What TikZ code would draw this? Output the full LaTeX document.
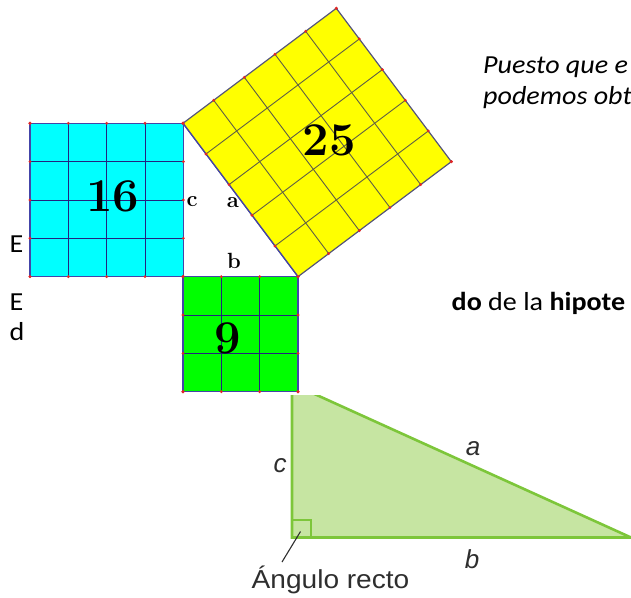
\documentclass[tikz,border=0pt]{standalone}
\usepackage{fontspec}
\newfontfamily\calfont{Carlito}
\newfontfamily\helfont{Liberation Sans}
\definecolor{cyanfill}{HTML}{00FFFF}
\definecolor{greenfill}{HTML}{00FF00}
\definecolor{yellowfill}{HTML}{FFFF00}
\definecolor{navygrid}{HTML}{23237F}
\definecolor{bordblue}{HTML}{4444A8}
\definecolor{ygrid}{HTML}{5E5E46}
\definecolor{yborder}{HTML}{55557A}
\definecolor{dotred}{HTML}{E02828}
\definecolor{trifill}{HTML}{C6E5A2}
\definecolor{triline}{HTML}{7DC63A}
\definecolor{darktext}{HTML}{2E2E2E}
\begin{document}
\begin{tikzpicture}[x=1pt,y=-1pt,
  gridline/.style={draw=navygrid, line width=0.9pt},
  ygridline/.style={draw=ygrid, line width=0.9pt},
  sqborder/.style={draw=bordblue, line width=1.2pt},
  yborderline/.style={draw=yborder, line width=1.2pt},
  reddot/.style={fill=dotred, draw=none},
  numlabel/.style={inner sep=0pt, font=\fontsize{47}{47}\selectfont\bfseries},
  sidelabel/.style={inner sep=0pt, font=\fontsize{22}{22}\selectfont\bfseries},
  bodytext/.style={inner sep=0pt, anchor=base west, font=\calfont\fontsize{26}{30}\selectfont},
  tri/.style={draw=triline, line width=2.6pt, fill=trifill, line join=miter},
  trilabel/.style={inner sep=0pt, text=darktext, font=\helfont\fontsize{26}{30}\selectfont},
  pointer/.style={draw=darktext, line width=1.1pt}]
\useasboundingbox (0,0) rectangle (631,597);

% ---------- cyan square (16) ----------
\begin{scope}[shift={(30pt,-123.3pt)}, x={(38.33pt,0pt)}, y={(0pt,-38.33pt)}]
  \fill[cyanfill] (0,0) -- (4,0) -- (4,4) -- (0,4) -- cycle;
  \foreach \k in {1,2,3} {
    \draw[gridline] (\k,0) -- (\k,4);
    \draw[gridline] (0,\k) -- (4,\k);
  }
  \draw[sqborder] (0,0) -- (4,0) -- (4,4) -- (0,4) -- cycle;
  \foreach \k in {0,...,4} {
    \fill[reddot] (\k,0) circle[radius=1.6pt];
    \fill[reddot] (\k,4) circle[radius=1.6pt];
    \fill[reddot] (0,\k) circle[radius=1.6pt];
    \fill[reddot] (4,\k) circle[radius=1.6pt];
  }
\end{scope}

% ---------- green square (9) ----------
\begin{scope}[shift={(183pt,-276.7pt)}, x={(38.33pt,0pt)}, y={(0pt,-38.33pt)}]
  \fill[greenfill] (0,0) -- (3,0) -- (3,3) -- (0,3) -- cycle;
  \foreach \k in {1,2} {
    \draw[gridline] (\k,0) -- (\k,3);
    \draw[gridline] (0,\k) -- (3,\k);
  }
  \draw[sqborder] (0,0) -- (3,0) -- (3,3) -- (0,3) -- cycle;
  \foreach \k in {0,...,3} {
    \fill[reddot] (\k,0) circle[radius=1.6pt];
    \fill[reddot] (\k,3) circle[radius=1.6pt];
    \fill[reddot] (0,\k) circle[radius=1.6pt];
    \fill[reddot] (3,\k) circle[radius=1.6pt];
  }
\end{scope}

% ---------- yellow square (25) ----------
\begin{scope}[shift={(183pt,-123.3pt)}, x={(23pt,-30.667pt)}, y={(30.667pt,23pt)}]
  \fill[yellowfill] (0,0) -- (5,0) -- (5,5) -- (0,5) -- cycle;
  \foreach \k in {1,2,3,4} {
    \draw[ygridline] (\k,0) -- (\k,5);
    \draw[ygridline] (0,\k) -- (5,\k);
  }
  \draw[yborderline] (0,0) -- (5,0) -- (5,5) -- (0,5) -- cycle;
  \draw[sqborder] (0,0) -- (5,0);
  \foreach \k in {0,...,5} {
    \fill[reddot] (\k,0) circle[radius=1.6pt];
    \fill[reddot] (\k,5) circle[radius=1.6pt];
    \fill[reddot] (0,\k) circle[radius=1.6pt];
    \fill[reddot] (5,\k) circle[radius=1.6pt];
  }
\end{scope}

% ---------- labels of the squares ----------
\node[numlabel] (n16) at (112.5,196) {16};
\node[numlabel] (n25) at (329,140) {25};
\node[numlabel] (n9) at (228,338) {9};
\node[sidelabel] (lc) at (192,202) {c};
\node[sidelabel] (la) at (233,203) {a};
\node[sidelabel] (lb) at (234,261) {b};

% ---------- body text fragments ----------
\node[bodytext] (t1) at (483,73) {\scalebox{1.08}[1]{\itshape Puesto que e}};
\node[bodytext] (t2) at (483,104) {\scalebox{1.08}[1]{\itshape podemos obt}};
\node[bodytext] (t3) at (451.5,310) {\scalebox{1.08}[1]{\textbf{do} de la \textbf{hipote}}};
\node[bodytext] (e1) at (9.5,252) {\scalebox{1.08}[1]{E}};
\node[bodytext] (e2) at (9.5,310) {\scalebox{1.08}[1]{E}};
\node[bodytext] (d1) at (9.5,340) {\scalebox{1.08}[1]{d}};

% ---------- lower right triangle ----------
\begin{scope}
  \clip (280,395) rectangle (640,570);
  \path[tri] (292,383.8) -- (631,537.5) -- (292,537.5) -- cycle;
\end{scope}
\draw[draw=triline, line width=2pt] (292,520) -- (310.5,520) -- (310.5,537.5);
\node[trilabel] (tc) at (280,466) {\itshape c};
\node[trilabel] (ta) at (473,449) {\itshape a};
\node[trilabel] (tb) at (472,559) {\itshape b};
\node[trilabel, anchor=base west] (ang) at (251.5,588) {\scalebox{1.08}[1]{Ángulo recto}};
\coordinate (rmark) at (300.5,531.5);
\coordinate (ptend) at (282,562);
\draw[pointer] (rmark) -- (ptend);
\end{tikzpicture}
\end{document}
